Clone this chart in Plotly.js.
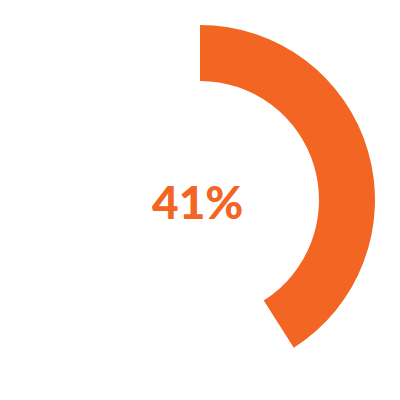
<!DOCTYPE html>
<html>
<head>
<meta charset="utf-8">
<script src="https://cdn.plot.ly/plotly-3.0.1.min.js"></script>
<style>
  html, body { margin: 0; padding: 0; background: #fff; }
  #donut { width: 400px; height: 400px; }
</style>
</head>
<body>
<div id="donut"></div>
<script>
var labels = ['Done', 'Remaining'];
var values = [41, 59];
var centerLabel = '41%';

var data = [
	{
		type: 'pie',
		labels: labels,
		values: values,
		hole: 0.68,
		sort: false,
		direction: 'clockwise',
		rotation: 0,
		textinfo: 'none',
		hoverinfo: 'none',
		showlegend: false,
		marker: {
			colors: ['#F26522', 'rgba(0,0,0,0)'],
			line: { width: 0 }
		}
	}
];

var layout = {
	width: 400,
	height: 400,
	margin: { l: 25, r: 25, t: 25, b: 25 },
	paper_bgcolor: '#fff',
	annotations: [
		{
			text: centerLabel,
			x: 0.492, y: 0.495,
			xref: 'paper', yref: 'paper',
			showarrow: false,
			font: { family: 'Lato, "Open Sans", sans-serif', size: 46, weight: 900, color: '#F26522' }
		}
	]
};

Plotly.newPlot('donut', data, layout, { displayModeBar: false, staticPlot: true });
</script>
</body>
</html>
